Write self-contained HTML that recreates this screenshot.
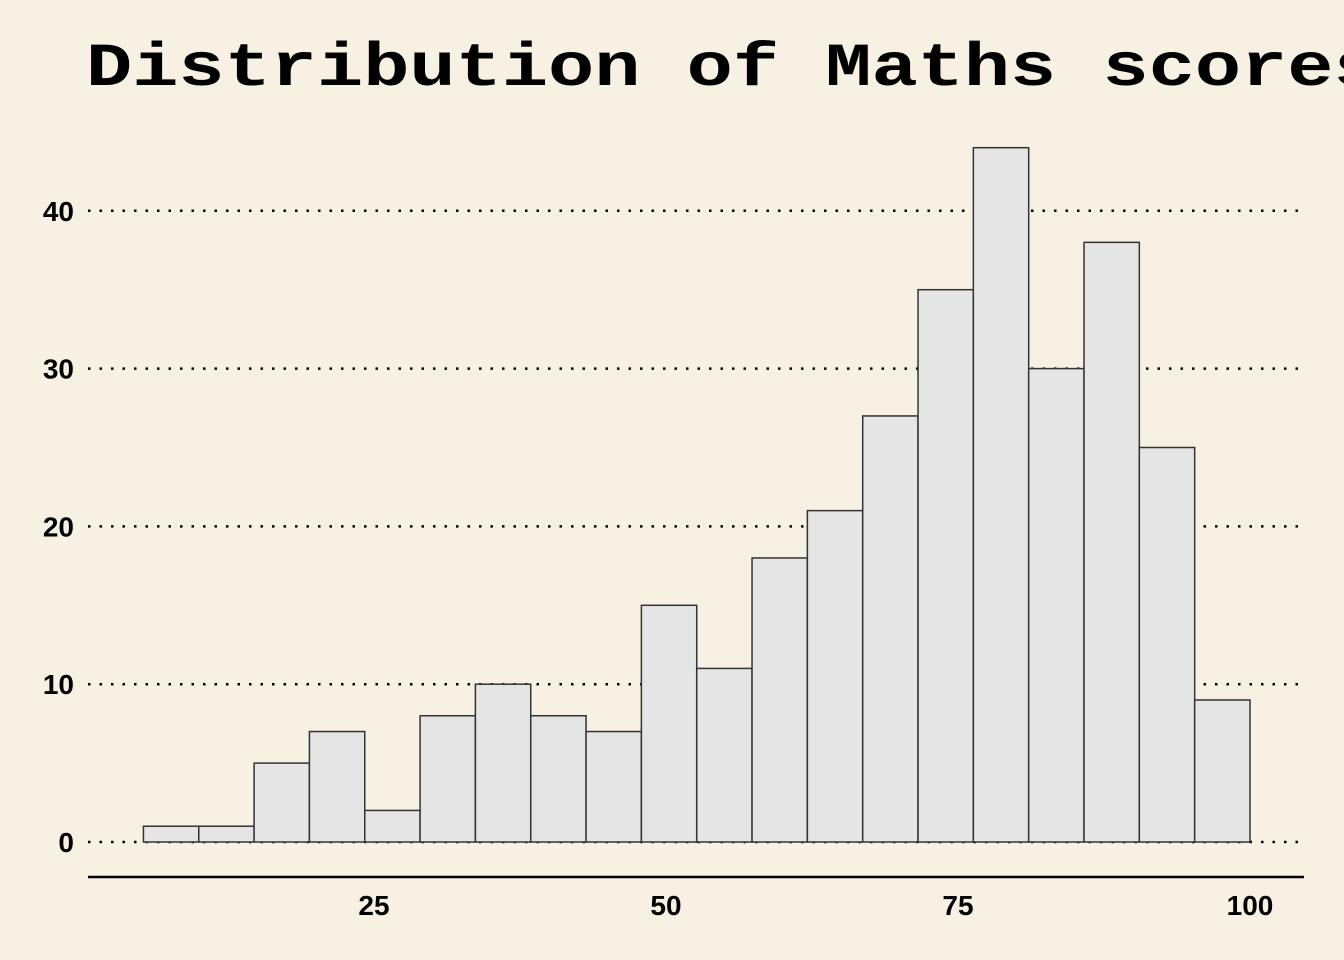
<!DOCTYPE html>
<html><head><meta charset="utf-8"><style>
html,body{margin:0;padding:0;background:#f7f1e4;overflow:hidden;}
svg{display:block;}
</style></head><body>
<svg width="1344" height="960" xmlns="http://www.w3.org/2000/svg">
<rect width="1344" height="960" fill="#f7f1e4"/>
<text x="86" y="0" transform="translate(0,85) scale(1,0.8)" font-family="'Liberation Mono', monospace" font-weight="bold" font-size="77" fill="#000">Distribution of Maths scores</text>
<g id="grid"></g><g id="bars"></g><g id="axes"></g>
</svg>
<script>
const counts = [1,1,5,7,2,8,10,8,7,15,11,18,21,27,35,44,30,38,25,9];
const binStart = 5.26;
const binEnd = 100;
const xTicks = [25,50,75,100];
const yTicks = [0,10,20,30,40];
const NS='http://www.w3.org/2000/svg';
const xs = v => 374 + (v-25)*(1250-374)/75;
const ys = v => 842 - v*15.78;
const grid=document.getElementById('grid'), bars=document.getElementById('bars'), axes=document.getElementById('axes');
function mk(tag, attrs, parent){const e=document.createElementNS(NS,tag);for(const k in attrs)e.setAttribute(k,attrs[k]);parent.appendChild(e);return e;}
yTicks.forEach(t=>{
  const l=mk('line',{x1:88,x2:1304,y1:ys(t),y2:ys(t),stroke:'#000','stroke-width':2.5,'stroke-dasharray':'2.5 9'},grid);
  
  
  const tx=mk('text',{x:74,y:ys(t)+10,'text-anchor':'end','font-family':"'Liberation Sans', sans-serif",'font-weight':'bold','font-size':28},axes);
  tx.textContent=t;
  
  
});
const bw=(binEnd-binStart)/counts.length;
counts.forEach((c,i)=>{
  const x0=xs(binStart+i*bw), x1=xs(binStart+(i+1)*bw);
  const r=mk('rect',{x:x0,y:ys(c),width:x1-x0,height:ys(0)-ys(c),fill:'#e5e5e5',stroke:'#333','stroke-width':1.5},bars);
  
  
});
const ax=mk('line',{x1:88,x2:1304,y1:877,y2:877,stroke:'#000','stroke-width':2.5},axes);


xTicks.forEach(t=>{
  const tx=mk('text',{x:xs(t),y:915,'text-anchor':'middle','font-family':"'Liberation Sans', sans-serif",'font-weight':'bold','font-size':28},axes);
  tx.textContent=t;
  
  
});
</script>
</body></html>
